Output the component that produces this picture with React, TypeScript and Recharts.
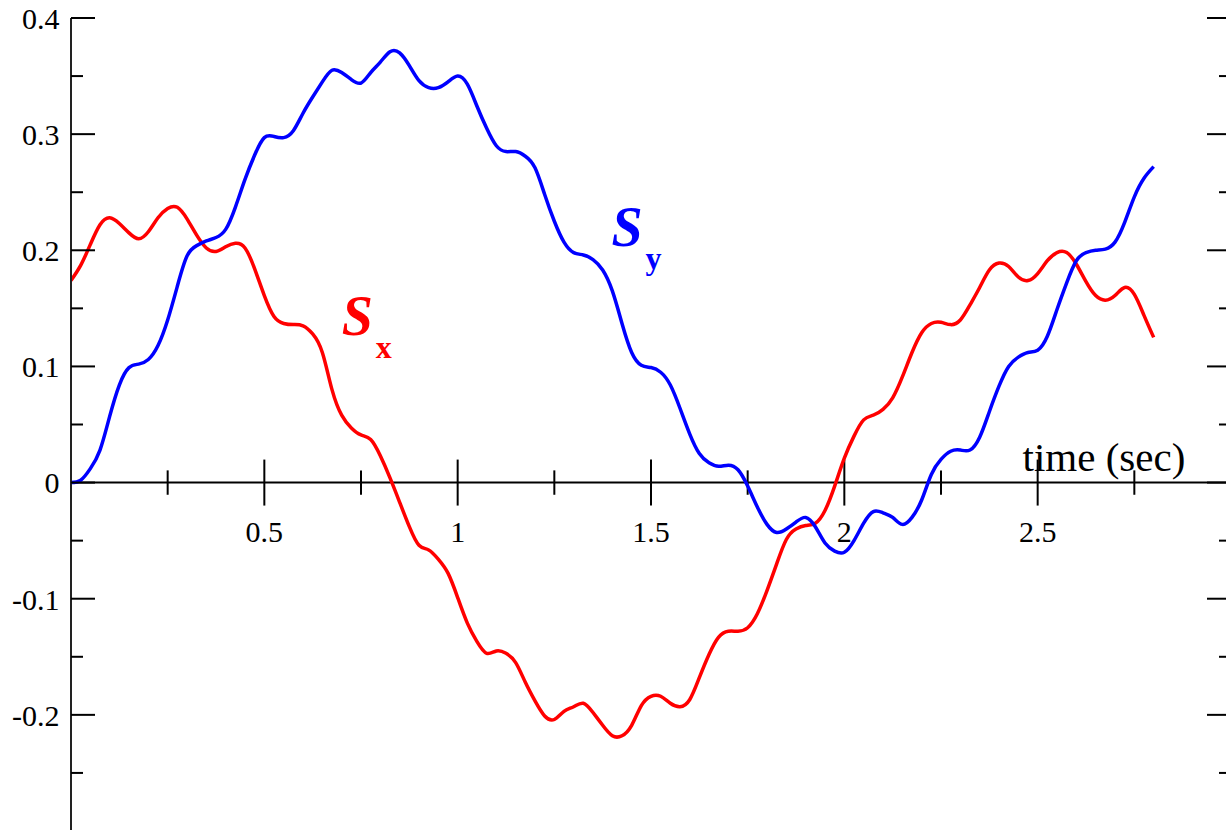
import {
  LineChart,
  Line,
  XAxis,
  YAxis,
  ReferenceLine,
  ReferenceDot,
} from "recharts";

// time (sec)
const time = [
  0, 0.025, 0.05, 0.075, 0.1, 0.125, 0.15, 0.175, 0.2, 0.225,
  0.25, 0.275, 0.3, 0.325, 0.35, 0.375, 0.4, 0.425, 0.45, 0.475,
  0.5, 0.525, 0.55, 0.575, 0.6, 0.625, 0.65, 0.675, 0.7, 0.725,
  0.75, 0.775, 0.8, 0.825, 0.85, 0.875, 0.9, 0.925, 0.95, 0.975,
  1, 1.025, 1.05, 1.075, 1.1, 1.125, 1.15, 1.175, 1.2, 1.225,
  1.25, 1.275, 1.3, 1.325, 1.35, 1.375, 1.4, 1.425, 1.45, 1.475,
  1.5, 1.525, 1.55, 1.575, 1.6, 1.625, 1.65, 1.675, 1.7, 1.725,
  1.75, 1.775, 1.8, 1.825, 1.85, 1.875, 1.9, 1.925, 1.95, 1.975,
  2, 2.025, 2.05, 2.075, 2.1, 2.125, 2.15, 2.175, 2.2, 2.225,
  2.25, 2.275, 2.3, 2.325, 2.35, 2.375, 2.4, 2.425, 2.45, 2.475,
  2.5, 2.525, 2.55, 2.575, 2.6, 2.625, 2.65, 2.675, 2.7, 2.725,
  2.75, 2.775, 2.8,
];

// S_x (red)
const sx = [
  0.174, 0.187, 0.205, 0.222, 0.228, 0.223, 0.215, 0.21, 0.216, 0.228,
  0.236, 0.237, 0.227, 0.213, 0.202, 0.199, 0.203, 0.206, 0.202, 0.184,
  0.161, 0.143, 0.137, 0.136, 0.135, 0.128, 0.112, 0.08, 0.058, 0.047,
  0.041, 0.037, 0.023, 0.004, -0.017, -0.038, -0.054, -0.058, -0.066, -0.078,
  -0.099, -0.121, -0.137, -0.147, -0.145, -0.147, -0.155, -0.172, -0.188, -0.201,
  -0.204, -0.197, -0.193, -0.19, -0.198, -0.209, -0.218, -0.218, -0.209, -0.192,
  -0.184, -0.184, -0.19, -0.193, -0.187, -0.168, -0.148, -0.133, -0.128, -0.128,
  -0.125, -0.113, -0.093, -0.07, -0.049, -0.04, -0.037, -0.035, -0.024, -0.003,
  0.021, 0.04, 0.054, 0.058, 0.063, 0.073, 0.091, 0.112, 0.129, 0.137,
  0.138, 0.136, 0.14, 0.153, 0.168, 0.183, 0.189, 0.186, 0.177, 0.174,
  0.18, 0.191, 0.198, 0.198, 0.188, 0.173, 0.161, 0.157, 0.161, 0.168,
  0.162, 0.144, 0.125,
];

// S_y (blue)
const sy = [
  0, 0.002, 0.012, 0.028, 0.057, 0.084, 0.099, 0.102, 0.106, 0.118,
  0.14, 0.169, 0.195, 0.204, 0.208, 0.211, 0.218, 0.237, 0.261, 0.282,
  0.297, 0.298, 0.297, 0.303, 0.318, 0.332, 0.345, 0.355, 0.353, 0.347,
  0.344, 0.353, 0.362, 0.371, 0.37, 0.359, 0.346, 0.34, 0.34, 0.345,
  0.35, 0.343, 0.324, 0.305, 0.29, 0.285, 0.285, 0.281, 0.271, 0.248,
  0.225, 0.207, 0.198, 0.196, 0.192, 0.183, 0.165, 0.137, 0.112, 0.101,
  0.099, 0.095, 0.084, 0.064, 0.042, 0.025, 0.017, 0.014, 0.015, 0.011,
  -0.003, -0.021, -0.036, -0.043, -0.04, -0.034, -0.03, -0.038, -0.052, -0.059,
  -0.06, -0.05, -0.035, -0.025, -0.026, -0.03, -0.036, -0.03, -0.015, 0.007,
  0.02, 0.027, 0.028, 0.028, 0.039, 0.061, 0.083, 0.1, 0.108, 0.112,
  0.114, 0.126, 0.149, 0.172, 0.191, 0.198, 0.2, 0.201, 0.207, 0.224,
  0.246, 0.262, 0.272,
];

const yTicks = [
  -0.3, -0.25, -0.2, -0.15, -0.1, -0.05, 0, 0.05, 0.1, 0.15, 0.2, 0.25, 0.3,
  0.35, 0.4,
];
const yLabels = [-0.2, -0.1, 0, 0.1, 0.2, 0.3, 0.4];
const xMajor = [0.5, 1, 1.5, 2, 2.5];
const xMinor = [0.25, 0.75, 1.25, 1.75, 2.25, 2.75];

const data = time.map((t, i) => ({ t, sx: sx[i], sy: sy[i] }));

const FONT = "'Liberation Serif', 'Times New Roman', serif";

const isMajor = (v: number) => Math.abs(v * 10 - Math.round(v * 10)) < 1e-6;

function LeftTick(props: any) {
  const { x, y, payload } = props;
  const v = payload.value;
  const len = isMajor(v) ? 24 : 12;
  return (
    <g>
      <line x1={x} x2={x + len} y1={y} y2={y} stroke="#000" strokeWidth={2} />
      {yLabels.includes(v) && (
        <text
          x={x - 11.5}
          y={y}
          dy="0.36em"
          textAnchor="end"
          fontSize={30}
          fontFamily={FONT}
          fill="#000"
        >
          {v === 0 ? "0" : String(v)}
        </text>
      )}
    </g>
  );
}

function RightTick(props: any) {
  const { x, y, payload } = props;
  const len = isMajor(payload.value) ? 24 : 12;
  return <line x1={x} x2={x - len} y1={y} y2={y} stroke="#000" strokeWidth={2} />;
}

function XTickLabel(props: any) {
  const { viewBox, value } = props;
  return (
    <text
      x={viewBox.x + viewBox.width / 2}
      y={viewBox.y + viewBox.height + 36}
      textAnchor="middle"
      fontSize={30}
      fontFamily={FONT}
      fill="#000"
    >
      {value}
    </text>
  );
}

function SeriesLabel(props: any, main: string, sub: string, color: string) {
  const { cx, cy } = props;
  return (
    <g fill={color} fontFamily={FONT} fontWeight="bold">
      <text x={cx} y={cy} fontSize={56} fontStyle="italic">
        {main}
      </text>
      <text x={cx + 34} y={cy + 23} fontSize={32}>
        {sub}
      </text>
    </g>
  );
}

export default function App() {
  return (
    <div
      style={{
        position: "fixed",
        left: 0,
        top: 0,
        width: 1226,
        height: 830,
        overflow: "hidden",
        background: "#fff",
      }}
    >
      <LineChart
        width={1260}
        height={860}
        data={data}
        margin={{ top: 18, right: 29, bottom: 29, left: 0 }}
      >
        <XAxis
          dataKey="t"
          type="number"
          domain={[0, 3]}
          allowDataOverflow
          hide
        />
        <XAxis
          xAxisId="top"
          orientation="top"
          type="number"
          domain={[0, 3]}
          height={0}
          tick={false}
          tickLine={false}
          axisLine={{ stroke: "#000", strokeWidth: 2 }}
        />
        <YAxis
          yAxisId="main"
          type="number"
          domain={[-0.3, 0.4]}
          allowDataOverflow
          ticks={yTicks}
          interval={0}
          width={71}
          tickSize={0}
          tickMargin={0}
          tickLine={false}
          axisLine={{ stroke: "#222", strokeWidth: 2 }}
          tick={<LeftTick />}
        />
        <YAxis
          yAxisId="right"
          orientation="right"
          mirror
          type="number"
          domain={[-0.3, 0.4]}
          allowDataOverflow
          ticks={yTicks}
          interval={0}
          tickSize={0}
          tickMargin={0}
          tickLine={false}
          axisLine={false}
          tick={<RightTick />}
        />

        <ReferenceLine yAxisId="main" y={0} stroke="#000" strokeWidth={2} />
        {xMinor.map((v) => (
          <ReferenceLine
            key={`mn${v}`}
            yAxisId="main"
            segment={[
              { x: v, y: -0.0105 },
              { x: v, y: 0.0105 },
            ]}
            stroke="#000"
            strokeWidth={2}
          />
        ))}
        {xMajor.map((v) => (
          <ReferenceLine
            key={`mj${v}`}
            yAxisId="main"
            segment={[
              { x: v, y: -0.0198 },
              { x: v, y: 0.0198 },
            ]}
            stroke="#000"
            strokeWidth={2}
            label={(p: any) => <XTickLabel viewBox={p.viewBox} value={String(v)} />}
          />
        ))}

        <Line
          yAxisId="main"
          type="natural"
          dataKey="sx"
          stroke="#ff0000"
          strokeWidth={3.5}
          dot={false}
          isAnimationActive={false}
        />
        <Line
          yAxisId="main"
          type="natural"
          dataKey="sy"
          stroke="#0000ff"
          strokeWidth={3.5}
          dot={false}
          isAnimationActive={false}
        />

        <ReferenceDot
          yAxisId="main"
          x={2.461}
          y={0.0103}
          r={0}
          shape={(p: any) => (
            <text x={p.cx} y={p.cy} fontSize={41} fontFamily={FONT} fill="#000">
              time (sec)
            </text>
          )}
        />
        <ReferenceDot
          yAxisId="main"
          x={0.7}
          y={0.1271}
          r={0}
          shape={(p: any) => SeriesLabel(p, "S", "x", "#ff0000")}
        />
        <ReferenceDot
          yAxisId="main"
          x={1.398}
          y={0.2033}
          r={0}
          shape={(p: any) => SeriesLabel(p, "S", "y", "#0000ff")}
        />
      </LineChart>
    </div>
  );
}
